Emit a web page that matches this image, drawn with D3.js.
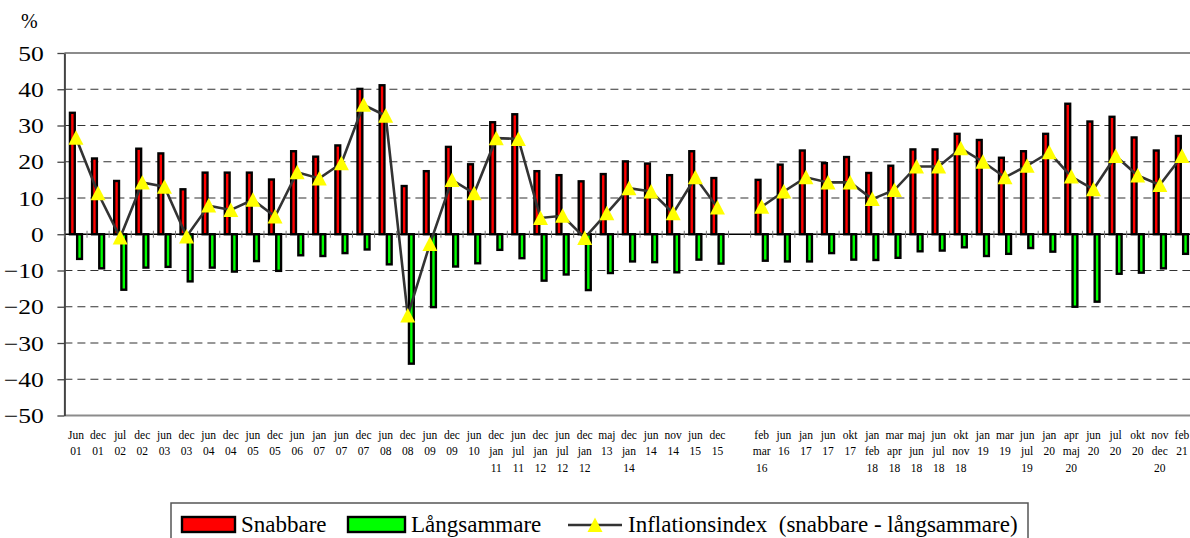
<!DOCTYPE html>
<html><head><meta charset="utf-8">
<script src="https://cdn.jsdelivr.net/npm/d3@7"></script>
<style>html,body{margin:0;padding:0;background:#fff;} svg{display:block;}</style>
</head><body>
<svg id="chart" width="1190" height="538"></svg>
<script>
const categories = ["Jun\n01","dec\n01","jul\n02","dec\n02","jun\n03","dec\n03","jun\n04","dec\n04","jun\n05","dec\n05","jun\n06","jan\n07","jun\n07","dec\n07","jun\n08","dec\n08","jun\n09","dec\n09","jun\n10","dec\njan\n11","jun\njul\n11","dec\njan\n12","jun\njul\n12","dec\njan\n12","maj\n13","dec\njan\n14","jun\n14","nov\n14","jun\n15","dec\n15","","feb\nmar\n16","jun\n16","jan\n17","jun\n17","okt\n17","jan\nfeb\n18","mar\napr\n18","maj\njun\n18","jun\njul\n18","okt\nnov\n18","jan\n19","mar\n19","jun\njul\n19","jan\n20","apr\nmaj\n20","jun\n20","jul\n20","okt\n20","nov\ndec\n20","feb\n21"];
const snabbare = [33.5,20.9,14.7,23.6,22.3,12.4,17.0,17.0,17.0,15.1,22.9,21.4,24.5,40.1,41.1,13.3,17.4,24.1,19.3,30.9,33.1,17.4,16.3,14.6,16.6,20.1,19.5,16.3,22.9,15.5,null,15.0,19.2,23.1,19.6,21.3,16.9,18.9,23.4,23.4,27.7,26.0,21.1,22.9,27.7,36.0,31.1,32.4,26.7,23.1,27.1];
const langsammare = [-6.8,-9.4,-15.3,-9.2,-9.0,-13.0,-9.2,-10.3,-7.4,-10.1,-5.8,-6.0,-5.2,-4.2,-8.3,-35.7,-20.1,-8.9,-8.0,-4.3,-6.6,-12.8,-11.1,-15.4,-10.7,-7.5,-7.7,-10.5,-7.0,-8.1,null,-7.3,-7.5,-7.5,-5.2,-7.0,-7.1,-6.5,-4.7,-4.5,-3.6,-6.0,-5.4,-3.8,-4.8,-20.0,-18.6,-10.9,-10.6,-9.4,-5.4];
const inflationsindex = [26.6,11.3,-0.9,14.3,13.1,-0.6,7.9,6.7,9.5,4.9,17.1,15.4,19.6,35.7,32.7,-22.4,-2.7,15.0,11.3,26.5,26.3,4.5,5.1,-1.0,5.8,12.7,11.8,5.8,15.7,7.4,null,7.6,11.8,15.7,14.3,14.3,9.7,12.2,18.7,18.7,23.7,20.0,15.7,18.9,22.6,15.9,12.4,21.6,16.2,13.6,21.6];
const yTicks = [50,40,30,20,10,0,-10,-20,-30,-40,-50];
const seriesNames = ["Snabbare","Långsammare","Inflationsindex  (snabbare - långsammare)"];
const colors = {bar1:"#ff0000", bar2:"#00ff00", marker:"#ffff00", line:"#333333"};

const svg = d3.select("#chart");
const serif = "'Liberation Serif','Times New Roman',serif";
const idx = d3.range(categories.length);

const x = d3.scaleBand().domain(idx).range([64.9, 64.9 + 22.12*categories.length]).padding(0);
const cx = i => x(i) + x.bandwidth()/2;
const xi = d3.scaleBand().domain(["s","l"]).range([-7.2, 7.2]).padding(0);
const y = d3.scaleLinear().domain([-50, 50]).range([415.5, 53.0]);
const left = 64.4, right = 1190;

// gridlines
const g = svg.append("g");
g.selectAll("line.grid").data(yTicks.filter(t => t !== 50 && t !== -50 && t !== 0)).join("line")
  .attr("x1", left).attr("x2", right).attr("y1", d => y(d)).attr("y2", d => y(d))
  .attr("stroke", "#333").attr("stroke-width", 1.2).attr("stroke-dasharray", "8,5");
[50,-50].forEach(t => g.append("line").attr("x1", left).attr("x2", right)
  .attr("y1", y(t)).attr("y2", y(t)).attr("stroke", "#8c8c8c").attr("stroke-width", 2));

// y axis
const yAxis = d3.axisLeft(y).tickValues(yTicks).tickSize(7).tickSizeOuter(0).tickPadding(14);
const ya = svg.append("g").attr("transform", `translate(${left},0)`).call(yAxis);
ya.attr("font-family", serif);
ya.select(".domain").attr("stroke", "#444").attr("stroke-width", 2);
ya.selectAll(".tick line").attr("stroke", "#444").attr("stroke-width", 1.3);
ya.selectAll(".tick text").attr("font-family", serif).attr("font-size", 21).attr("fill", "#000")
  .attr("x", 0).attr("dy", "0.34em").attr("transform", "translate(-20.5,0) scale(1.22,1)");

svg.append("text").attr("x", 21).attr("y", 28).attr("font-family", serif).attr("font-size", 20).text("%");

// bars
const bars = svg.append("g");
bars.selectAll("rect.s").data(idx.filter(i => snabbare[i] != null)).join("rect")
  .attr("x", i => cx(i) + xi("s") + 1.2).attr("width", xi.bandwidth() - 2.4)
  .attr("y", i => y(Math.max(0, snabbare[i]))).attr("height", i => Math.abs(y(snabbare[i]) - y(0)))
  .attr("fill", colors.bar1).attr("stroke", "#000").attr("stroke-width", 2.4);
bars.selectAll("rect.l").data(idx.filter(i => langsammare[i] != null)).join("rect")
  .attr("x", i => cx(i) + xi("l") + 1.2).attr("width", xi.bandwidth() - 2.4)
  .attr("y", i => y(Math.max(0, langsammare[i]))).attr("height", i => Math.abs(y(langsammare[i]) - y(0)))
  .attr("fill", colors.bar2).attr("stroke", "#000").attr("stroke-width", 2.4);

// zero line and category ticks
svg.append("line").attr("x1", left).attr("x2", right).attr("y1", y(0)).attr("y2", y(0))
  .attr("stroke", "#000").attr("stroke-width", 1.3);
svg.append("g").selectAll("line").data(idx.concat([categories.length])).join("line")
  .attr("x1", i => i < categories.length ? x(i) : x(categories.length-1)+x.bandwidth())
  .attr("x2", i => i < categories.length ? x(i) : x(categories.length-1)+x.bandwidth())
  .attr("y1", y(0) - 3.5).attr("y2", y(0) + 3.5).attr("stroke", "#777").attr("stroke-width", 1);

// line + markers
const line = d3.line().defined(i => inflationsindex[i] != null).x(i => cx(i)).y(i => y(inflationsindex[i]));
svg.append("path").datum(idx).attr("d", line).attr("fill", "none")
  .attr("stroke", colors.line).attr("stroke-width", 2.6);
const tri = "M0,-7.5L7.5,7L-7.5,7Z";
svg.append("g").selectAll("path").data(idx.filter(i => inflationsindex[i] != null)).join("path")
  .attr("transform", i => `translate(${cx(i)},${y(inflationsindex[i])})`)
  .attr("d", tri).attr("fill", colors.marker);

// x labels
const xl = svg.append("g").attr("font-family", serif).attr("font-size", 11.5).attr("text-anchor", "middle");
idx.forEach(i => {
  const parts = categories[i] ? categories[i].split("\n") : [];
  parts.forEach((p, k) => xl.append("text").attr("x", cx(i)).attr("y", 438.5 + k*16.5).text(p));
});

// legend
const lg = svg.append("g").attr("font-family", serif).attr("font-size", 23);
lg.append("rect").attr("x", 171).attr("y", 503).attr("width", 857).attr("height", 60)
  .attr("fill", "#fff").attr("stroke", "#555").attr("stroke-width", 1.5);
lg.append("rect").attr("x", 182).attr("y", 517).attr("width", 53).attr("height", 15)
  .attr("fill", colors.bar1).attr("stroke", "#000").attr("stroke-width", 2.4);
lg.append("text").attr("x", 241).attr("y", 532).text(seriesNames[0]);
lg.append("rect").attr("x", 348).attr("y", 517).attr("width", 57).attr("height", 15)
  .attr("fill", colors.bar2).attr("stroke", "#000").attr("stroke-width", 2.4);
lg.append("text").attr("x", 411).attr("y", 532).text(seriesNames[1]);
lg.append("line").attr("x1", 568).attr("x2", 622).attr("y1", 525).attr("y2", 525)
  .attr("stroke", colors.line).attr("stroke-width", 2.6);
lg.append("path").attr("transform", "translate(595,525)").attr("d", tri).attr("fill", colors.marker);
lg.append("text").attr("x", 628).attr("y", 532).attr("xml:space", "preserve").style("white-space", "pre").text(seriesNames[2]);
</script>
</body></html>
